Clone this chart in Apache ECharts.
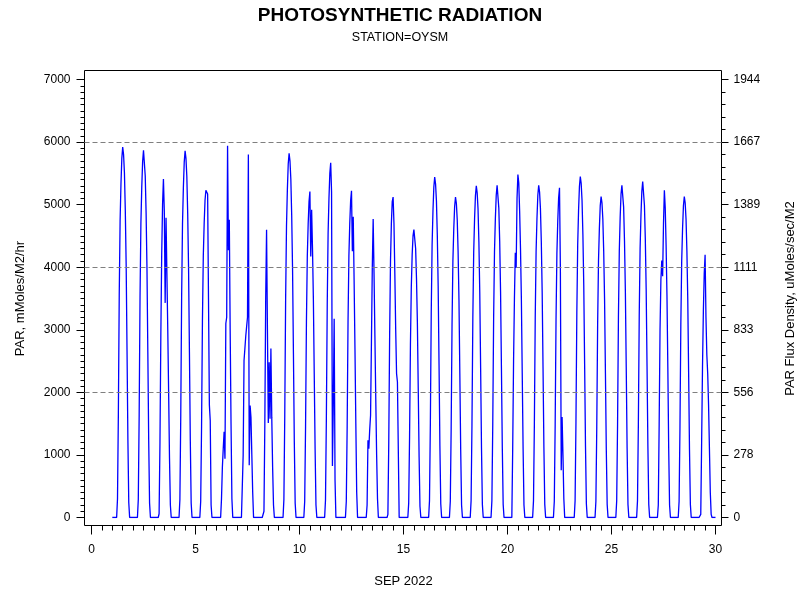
<!DOCTYPE html>
<html>
<head>
<meta charset="utf-8">
<script src="https://cdn.jsdelivr.net/npm/echarts@6/dist/echarts.min.js"></script>
<style>
html,body{margin:0;padding:0;background:#fff;}
#chart{width:800px;height:600px;}
</style>
</head>
<body>
<div id="chart"></div>
<script>
// ---- data ----
const dayOfMonth = [1,2,3,4,5,6,7,8,9,10,11,12,13,14,15,16,17,18,19,20,21,22,23,24,25,26,27,28,29];
const hourOfDay = [5,6,7,8,9,10,11,12,13,14,15,16,17,18,19,20];
const parByDay = [
  [0, 300, 1660, 3550, 4740, 5330, 5740, 5920, 5800, 5510, 4910, 4030, 2660, 1240, 240, 0],
  [0, 290, 1640, 3520, 4700, 5280, 5690, 5870, 5840, 5460, 4870, 3990, 2640, 1230, 230, 0],
  [0, 60, 1200, 2900, 4200, 5000, 5410, 4900, 3430, 4790, 3900, 3000, 2000, 950, 200, 0],
  [0, 290, 1640, 3520, 4690, 5270, 5680, 5860, 5740, 5450, 4860, 3980, 2640, 1230, 230, 0],
  [0, 260, 1460, 3140, 4180, 4700, 5070, 5230, 5200, 5170, 3500, 1800, 1550, 200, 0, 0],
  [0, 300, 800, 1100, 1370, 940, 3100, 3200, 5940, 4270, 4760, 3000, 1500, 300, 0, 0],
  [0, 0, 1000, 2510, 2700, 2900, 3050, 3200, 5800, 835, 1790, 1600, 1000, 400, 0, 0],
  [0, 0, 100, 1500, 3500, 4600, 3000, 1510, 2480, 1580, 2700, 1600, 800, 200, 0, 0],
  [0, 290, 1630, 3490, 4660, 5240, 5650, 5820, 5700, 5410, 4830, 3960, 2620, 1220, 230, 0],
  [0, 260, 1460, 3130, 4170, 4690, 5050, 5210, 4170, 4920, 4300, 3500, 2300, 1100, 200, 0],
  [0, 280, 1590, 3400, 4540, 5100, 5500, 5670, 5200, 824, 1800, 3175, 600, 0, 0, 0],
  [0, 260, 1460, 3130, 4180, 4700, 5060, 5220, 4255, 4808, 3800, 2700, 1500, 400, 0, 0],
  [0, 200, 1234, 1101, 1400, 1633, 2800, 4000, 4770, 3900, 2900, 1900, 1000, 300, 0, 0],
  [0, 50, 1200, 2900, 4100, 4700, 5050, 5120, 4700, 3900, 3000, 2300, 2165, 2150, 0, 0],
  [0, 230, 1290, 2760, 3680, 4200, 4500, 4600, 4590, 4300, 3820, 3130, 2070, 970, 180, 0],
  [0, 270, 1520, 3260, 4350, 4900, 5280, 5440, 5330, 5060, 4520, 3700, 2450, 1140, 220, 0],
  [0, 260, 1430, 3070, 4100, 4610, 4970, 5120, 5020, 4760, 4250, 3480, 2300, 1080, 200, 0],
  [0, 270, 1480, 3180, 4240, 4770, 5140, 5300, 5190, 4930, 4400, 3600, 2390, 1110, 210, 0],
  [0, 270, 1490, 3190, 4250, 4780, 5150, 5310, 5290, 4940, 4410, 3610, 2390, 1120, 210, 0],
  [0, 1100, 2500, 3500, 4229, 3990, 5100, 5480, 5350, 4900, 4300, 3500, 2300, 1100, 200, 0],
  [0, 270, 1490, 3190, 4250, 4780, 5150, 5310, 5200, 4940, 4410, 3610, 2390, 1120, 210, 0],
  [0, 260, 1480, 3160, 4220, 4740, 5110, 5270, 4000, 755, 1606, 1000, 300, 0, 0, 0],
  [0, 270, 1530, 3270, 4360, 4910, 5290, 5450, 5340, 5070, 4520, 3710, 2450, 1140, 220, 0],
  [0, 260, 1440, 3080, 4100, 4620, 4980, 5130, 5030, 4770, 4260, 3490, 2310, 1080, 210, 0],
  [0, 270, 1490, 3200, 4260, 4800, 5170, 5310, 5330, 4960, 4420, 3620, 2400, 1120, 210, 0],
  [0, 270, 1500, 3220, 4300, 4830, 5210, 5370, 5350, 4990, 4460, 3650, 2420, 1130, 210, 0],
  [0, 200, 1500, 3000, 3800, 4106, 3856, 4700, 5230, 4950, 4350, 3550, 2400, 1100, 200, 0],
  [0, 260, 1440, 3080, 4100, 4620, 4980, 5130, 5030, 4770, 4260, 3490, 2310, 1080, 210, 0],
  [0, 0, 50, 1200, 2400, 3300, 3900, 4200, 3200, 2600, 2300, 1800, 1100, 400, 50, 0]
];
const recordStartDay = 1;   // record begins Sep 1 00:00 (PAR 0)
const recordEndDay = 30;    // record ends Sep 30 00:00 (PAR 0)
const nightPAR = 0;

const xTickValues = [0, 5, 10, 15, 20, 25, 30];
const leftTickValues = [0, 1000, 2000, 3000, 4000, 5000, 6000, 7000];
const rightTickLabels = ['0', '278', '556', '833', '1111', '1389', '1667', '1944'];
const referenceLines = [2000, 4000, 6000];

// ---- build series ----
const parSeries = [[recordStartDay, nightPAR]];
dayOfMonth.forEach(function (d, i) {
  hourOfDay.forEach(function (h, j) {
    parSeries.push([d + h / 24, parByDay[i][j]]);
  });
});
parSeries.push([recordEndDay, nightPAR]);

const FONT = '"Liberation Sans", Arial, Helvetica, sans-serif';
const black = '#000';

const chart = echarts.init(document.getElementById('chart'), null, {renderer: 'canvas'});
const option = {
  animation: false,
  backgroundColor: '#fff',
  title: [
    {text: 'PHOTOSYNTHETIC RADIATION', left: 'center', top: 1,
     textStyle: {fontFamily: FONT, fontSize: 19, fontWeight: 'bold', color: black}},
    {text: 'STATION=OYSM', left: 'center', top: 26,
     textStyle: {fontFamily: FONT, fontSize: 12.5, fontWeight: 'normal', color: black}}
  ],
  grid: [
    {left: 91.5, top: 79.5, width: 624, height: 438, containLabel: false, outerBoundsMode: 'none'},
    {left: 84.5, top: 70.5, width: 637, height: 455, containLabel: false, outerBoundsMode: 'none',
     show: true, borderColor: black, borderWidth: 1, backgroundColor: 'transparent'}
  ],
  xAxis: [
    {gridIndex: 0, type: 'value', min: xTickValues[0], max: xTickValues[xTickValues.length - 1], interval: 5,
     offset: 8, position: 'bottom',
     axisLine: {show: false, onZero: false},
     axisTick: {show: true, inside: false, length: 9, lineStyle: {color: black, width: 1}},
     minorTick: {show: true, splitNumber: 10, length: 5, lineStyle: {color: black, width: 1}},
     splitLine: {show: false}, minorSplitLine: {show: false},
     axisLabel: {margin: 18, fontSize: 12, color: black, fontFamily: FONT,
       formatter: function (v) { return xTickValues.indexOf(v) >= 0 ? String(v) : ''; }},
     name: 'SEP 2022', nameLocation: 'middle', nameGap: 49,
     nameTextStyle: {fontSize: 13, color: black, fontFamily: FONT}},
    {gridIndex: 1, type: 'value', min: -0.33654, max: 30.28846, show: false, axisLine: {onZero: false}}
  ],
  yAxis: [
    {gridIndex: 0, type: 'value', position: 'left', min: 0, max: 7000, interval: 1000, offset: 7,
     axisLine: {show: false, onZero: false},
     axisTick: {show: true, inside: false, length: 8, lineStyle: {color: black, width: 1}},
     minorTick: {show: true, splitNumber: 10, length: 4, lineStyle: {color: black, width: 1}},
     splitLine: {show: false}, minorSplitLine: {show: false},
     axisLabel: {margin: 14, fontSize: 12, color: black, fontFamily: FONT,
       formatter: function (v) { return leftTickValues.indexOf(v) >= 0 ? String(v) : ''; }},
     name: 'PAR, mMoles/M2/hr', nameLocation: 'middle', nameRotate: 90, nameGap: 58,
     nameTextStyle: {fontSize: 13, color: black, fontFamily: FONT}},
    {gridIndex: 0, type: 'value', position: 'right', min: 0, max: 7000, interval: 1000, offset: 6,
     axisLine: {show: false, onZero: false},
     axisTick: {show: true, inside: false, length: 7, lineStyle: {color: black, width: 1}},
     minorTick: {show: true, splitNumber: 5, length: 4, lineStyle: {color: black, width: 1}},
     splitLine: {show: false}, minorSplitLine: {show: false},
     axisLabel: {margin: 12, fontSize: 12, color: black, fontFamily: FONT,
       formatter: function (v) { const k = leftTickValues.indexOf(v); return k >= 0 ? rightTickLabels[k] : ''; }},
     name: 'PAR Flux Density, uMoles/sec/M2', nameLocation: 'middle', nameRotate: 90, nameGap: 62,
     nameTextStyle: {fontSize: 13, color: black, fontFamily: FONT}},
    {gridIndex: 1, type: 'value', min: -127.85, max: 7143.84, show: false, axisLine: {onZero: false}}
  ],
  series: [
    {type: 'line', xAxisIndex: 1, yAxisIndex: 2, data: [], silent: true, z: 1,
     markLine: {silent: true, symbol: 'none', animation: false,
       label: {show: false},
       lineStyle: {type: [5, 3], color: '#7f7f7f', width: 1},
       data: referenceLines.map(function (v) { return {yAxis: v}; })}},
    {type: 'line', xAxisIndex: 0, yAxisIndex: 0, data: parSeries, z: 3,
     showSymbol: false, symbol: 'none',
     lineStyle: {color: '#0000ff', width: 1.3}}
  ]
};
chart.setOption(option);
</script>
</body>
</html>
